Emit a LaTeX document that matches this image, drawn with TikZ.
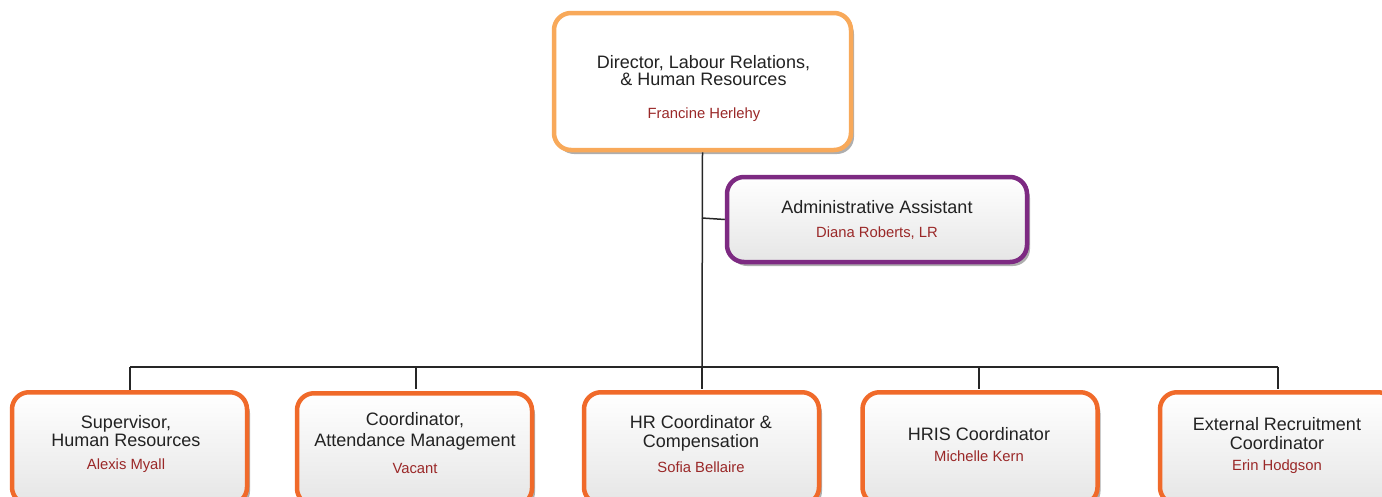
\documentclass[tikz,border=0pt]{standalone}
\usepackage{fontspec}
\setmainfont{Liberation Sans}
\usetikzlibrary{shadows}
\definecolor{lorange}{HTML}{F8A95A}
\definecolor{dorange}{HTML}{F06A2A}
\definecolor{purp}{HTML}{7D2A82}
\definecolor{namec}{HTML}{9A2828}
\definecolor{txt}{HTML}{222222}
\tikzset{
  box/.style={draw, line width=4.5pt, rounded corners=17pt, inner sep=0pt,
    drop shadow={shadow xshift=3pt, shadow yshift=-4pt, fill=black!45, opacity=0.7}},
  dirbox/.style={box, draw=lorange, fill=white},
  admbox/.style={box, draw=purp, top color=white, bottom color=black!10},
  staffbox/.style={box, draw=dorange, top color=white, bottom color=black!10},
  ttl/.style={text=txt, font=\fontsize{18}{17}\selectfont, align=center, inner sep=0pt},
  nm/.style={text=namec, font=\fontsize{14.8}{15}\selectfont, inner sep=0pt},
  conn/.style={line width=1.5pt, draw=black!85}
}
\begin{document}
\begin{tikzpicture}[x=1pt,y=-1pt]
\useasboundingbox (0,0) rectangle (1382,496);
% boxes
\node[dirbox, minimum width=297pt, minimum height=137pt] (dir) at (702.5,81.5) {};
\node[admbox, minimum width=300pt, minimum height=85pt] (adm) at (877,219.5) {};
\node[staffbox, minimum width=235pt, minimum height=112pt, anchor=north] (b1) at (129.5,390) {};
\node[staffbox, minimum width=235pt, minimum height=112pt, anchor=north] (b2) at (414.5,391) {};
\node[staffbox, minimum width=235pt, minimum height=112pt, anchor=north] (b3) at (701.5,390) {};
\node[staffbox, minimum width=235pt, minimum height=112pt, anchor=north] (b4) at (980,390) {};
\node[staffbox, minimum width=235pt, minimum height=112pt, anchor=north] (b5) at (1277.5,390) {};
% connectors
\coordinate (j) at (702,367);
\coordinate (jl) at (130,367);
\coordinate (jr) at (1278,367);
\draw[conn] (dir.south) -- (j);
\draw[conn] (702,218) -- (adm.west);
\draw[conn] (jl) -- (jr);
\draw[conn] (jl) -- (b1.north -| jl);
\draw[conn] (416,367) -- (416,389);
\draw[conn] (j) -- (702,389);
\draw[conn] (979,367) -- (979,389);
\draw[conn] (jr) -- (1278,389);
% texts
\node[ttl] (t0) at (703.5,71) {Director, Labour Relations,\\[0pt]\& Human Resources};
\node[nm] (n0) at (704,115) {Francine Herlehy};
\node[ttl] (t1) at (877,207) {Administrative Assistant};
\node[nm] (n1) at (877,233.5) {Diana Roberts, LR};
\node[ttl] (t2) at (126,431.5) {Supervisor,\\[1pt]Human Resources};
\node[nm] (n2) at (126,466) {Alexis Myall};
\node[ttl] (t3) at (415,431.5) {Coordinator,\\[4pt]Attendance Management};
\node[nm] (n3) at (415,468) {Vacant};
\node[ttl] (t4) at (701,433.5) {HR Coordinator \&\\[2pt]Compensation};
\node[nm] (n4) at (701,467) {Sofia Bellaire};
\node[ttl] (t5) at (979,434) {HRIS Coordinator};
\node[nm] (n5) at (979,456) {Michelle Kern};
\node[ttl] (t6) at (1277,433.5) {External Recruitment\\[2pt]Coordinator};
\node[nm] (n6) at (1277,467) {Erin Hodgson};
\end{tikzpicture}
\end{document}
